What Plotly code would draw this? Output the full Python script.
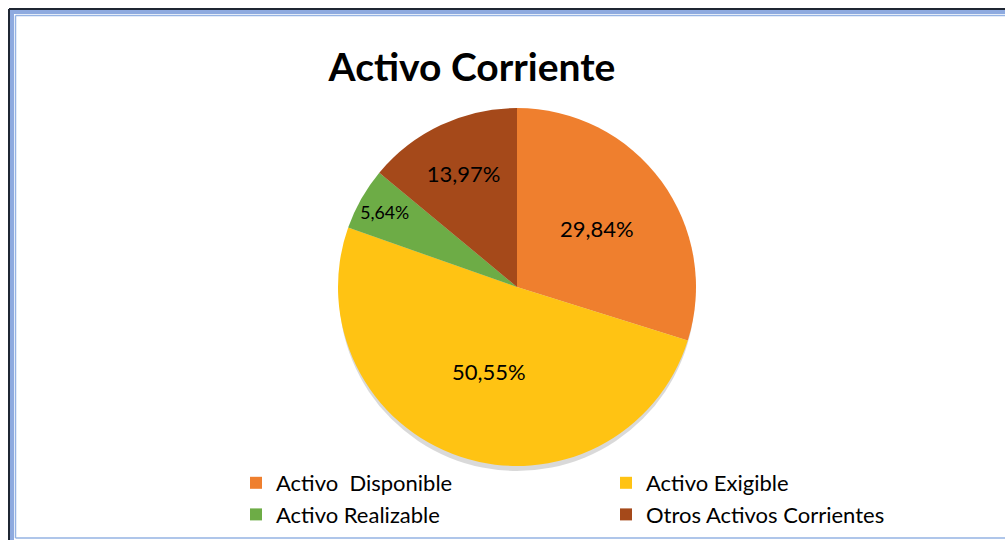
import plotly.graph_objects as go

# datos
categorias = ["Activo  Disponible", "Activo Exigible", "Activo Realizable", "Otros Activos Corrientes"]
porcentajes = [29.84, 50.55, 5.64, 13.97]
colores = ["#EF7F2E", "#FFC313", "#6DAC46", "#A5491A"]

W, H = 1005, 540


def px(x):
    return x / W


def py(y):
    return 1 - y / H


fig = go.Figure()

fig.add_trace(go.Pie(
    labels=[c.replace("  ", " \u00a0") for c in categorias],
    values=porcentajes,
    sort=False,
    direction="clockwise",
    rotation=0,
    marker=dict(colors=colores, line=dict(width=0)),
    texttemplate="%{percent:.2%}",
    textposition="inside",
    insidetextorientation="horizontal",
    textfont=dict(family="Lato", size=22, color="black"),
    hoverinfo="label+percent",
    domain=dict(x=[px(338), px(696)], y=[py(466), py(108)]),
))


def linea(x0, y0, x1, y1, color, ancho):
    return dict(type="line", xref="paper", yref="paper", layer="below",
                x0=px(x0), y0=py(y0), x1=px(x1), y1=py(y1),
                line=dict(color=color, width=ancho))


shapes = [
    # sombra del grafico
    dict(type="circle", xref="paper", yref="paper", layer="below",
         x0=px(339), x1=px(695), y0=py(471), y1=py(115),
         fillcolor="rgba(0,0,0,0.15)", line=dict(width=0)),
    # marco
    linea(9, 9, 1005, 9, "#1F2633", 2),
    linea(9, 9, 9, 540, "#1F2633", 2),
    linea(10, 12, 1005, 12, "#8EAADF", 4),
    linea(12, 10, 12, 540, "#8EAADF", 4),
    linea(15.5, 15.5, 1005, 15.5, "#95B3E3", 1.5),
    linea(15.5, 15.5, 15.5, 538, "#95B3E3", 1.5),
    linea(15.5, 538, 1005, 538, "#95B3E3", 1.5),
]

fig.update_layout(
    width=W, height=H,
    margin=dict(l=0, r=0, t=0, b=0),
    paper_bgcolor="white",
    separators=",.",
    title=dict(text="<b>Activo Corriente</b>", x=px(472), xanchor="center",
               y=py(67), yanchor="middle",
               font=dict(family="Lato", size=39, color="black")),
    legend=dict(orientation="h", x=px(236), xanchor="left", y=py(462), yanchor="top",
                entrywidth=325, entrywidthmode="pixels", tracegroupgap=0,
                font=dict(family="Lato", size=22, color="black"),
                traceorder="normal", bgcolor="rgba(0,0,0,0)"),
    shapes=shapes,
)

fig.write_html("out.html", config={"displayModeBar": False},
               post_script="document.body.style.margin='0';document.body.style.overflow='hidden';")
